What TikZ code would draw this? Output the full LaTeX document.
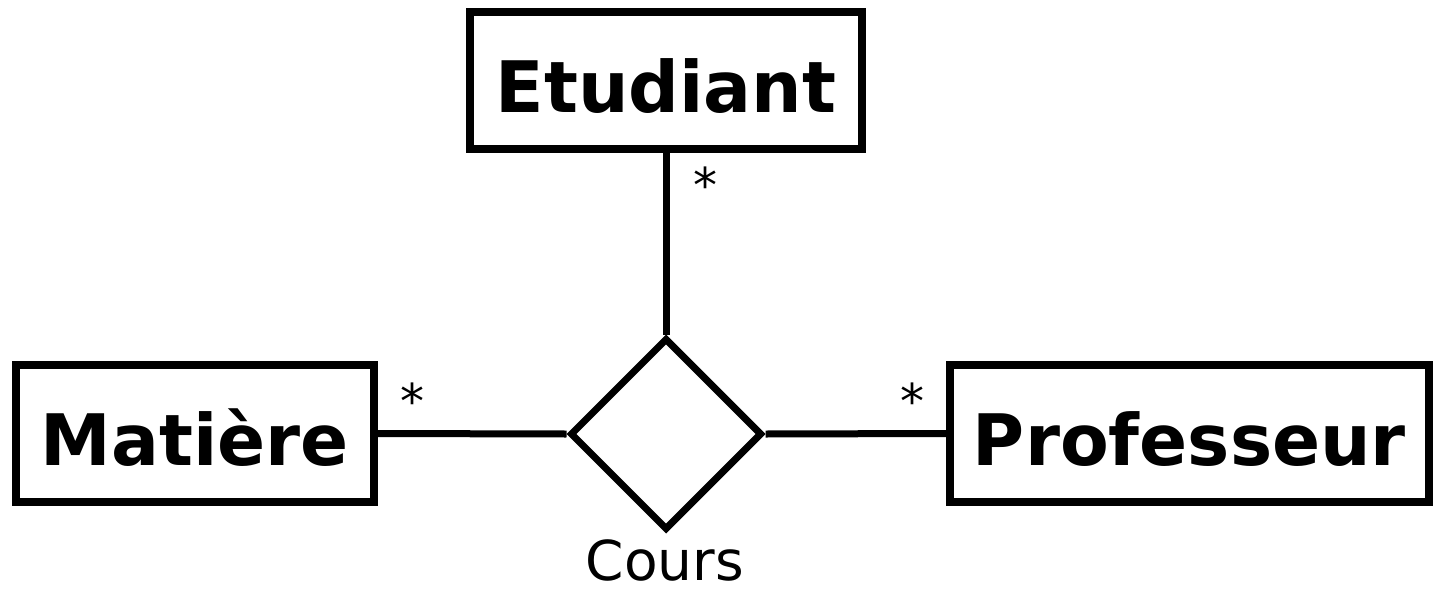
\documentclass[tikz,border=0pt]{standalone}
\usepackage{fontspec}
\setmainfont{DejaVu Sans}
\usetikzlibrary{shapes.geometric}
\tikzset{
  classbox/.style={draw=black, line width=8pt, fill=white, inner sep=0pt,
    font=\fontsize{71}{80}\selectfont\bfseries, text height=64pt, text depth=0pt},
  assoc/.style={draw=black, line width=7pt, fill=white, diamond, aspect=1,
    minimum width=192pt, minimum height=192pt, inner sep=0pt},
  conn/.style={line width=7pt, black},
  mult/.style={font=\fontsize{48}{50}\selectfont, inner sep=0pt, anchor=base},
  lbl/.style={font=\fontsize{55}{60}\selectfont, inner sep=0pt, anchor=base,
    text height=42pt, text depth=0pt}
}
\begin{document}
\begin{tikzpicture}[x=1pt, y=-1pt]
\useasboundingbox (0,0) rectangle (1445,589);
\node[classbox, minimum width=392pt, minimum height=137pt] (etu) at (666,80.5) {Etudiant};
\node[classbox, minimum width=358pt, minimum height=137pt] (mat) at (195,433.5) {Matière};
\node[classbox, minimum width=479pt, minimum height=137pt] (prof) at (1189.5,433.5) {Professeur};
\node[assoc] (cours) at (666,434) {};
\node[lbl] (courslbl) at (665,580) {Cours};
\draw[conn] (etu.south) -- (cours.north);
\draw[conn] (mat.east) -- (cours.west);
\draw[conn] (cours.east) -- (prof.west);
\node[mult] (m1) at (705,202) {*};
\node[mult] (m2) at (412,418) {*};
\node[mult] (m3) at (912,418) {*};
\end{tikzpicture}
\end{document}
